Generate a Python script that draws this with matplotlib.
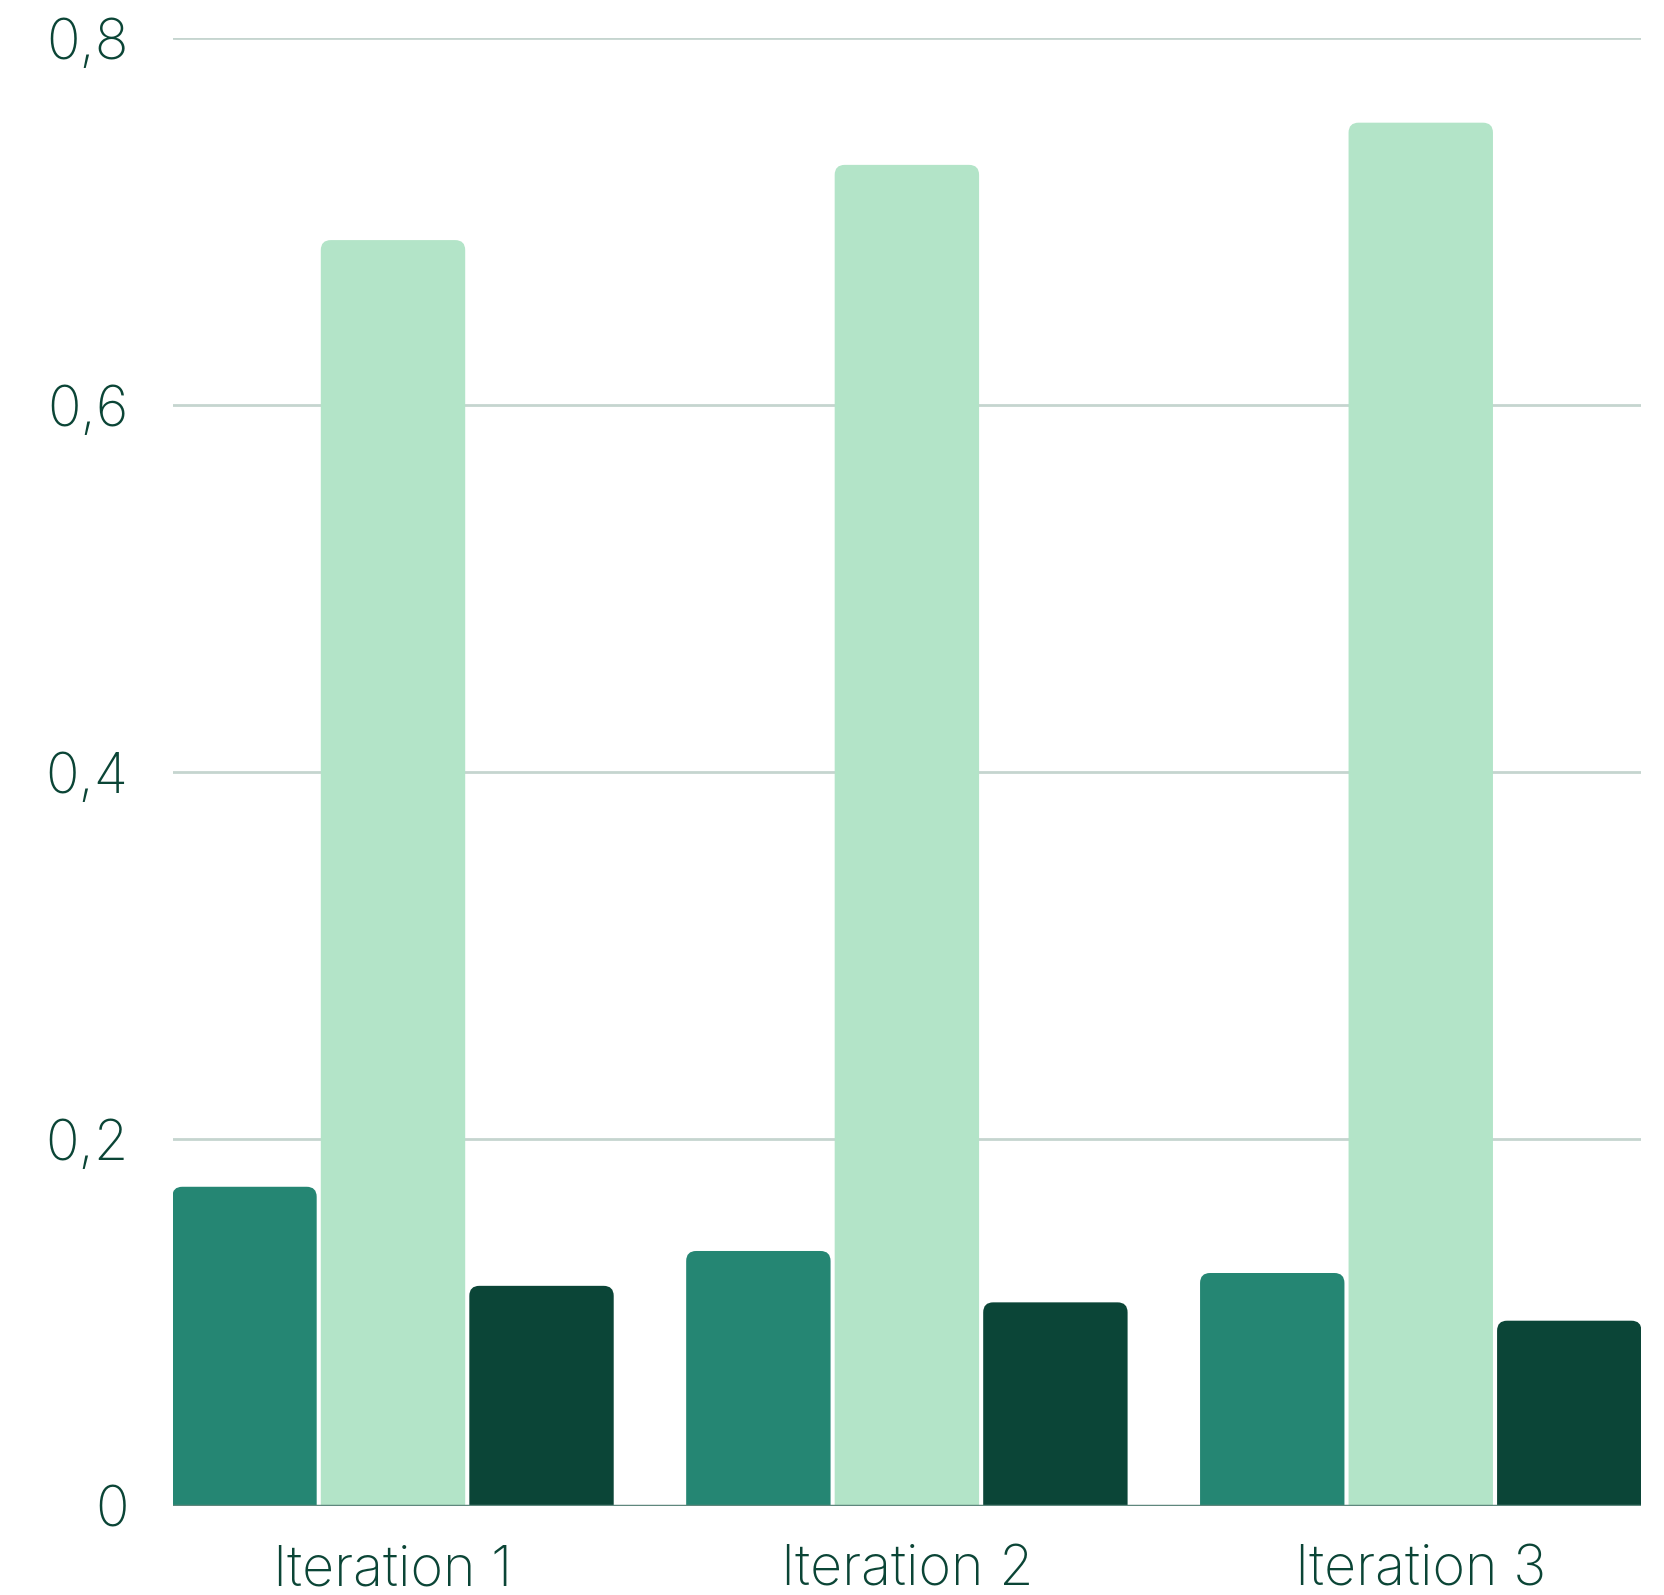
"""Grouped bars per iteration, rounded tops"""
import matplotlib
matplotlib.use('Agg')
import numpy as np
import matplotlib.pyplot as plt
from matplotlib.patches import FancyBboxPatch
from matplotlib.ticker import FuncFormatter

plt.rcParams['font.family'] = ['Inter', 'DejaVu Sans']

categories = ['Iteration 1', 'Iteration 2', 'Iteration 3']
series_a = [0.174, 0.139, 0.127]
series_b = [0.690, 0.731, 0.754]
series_c = [0.120, 0.111, 0.101]
yticks = [0, 0.2, 0.4, 0.6, 0.8]

colors = ['#258673', '#b3e4c8', '#0b4537']
text_color = '#0b4536'

fig = plt.figure(figsize=(16.64, 15.95), dpi=100)
ax = fig.add_axes([0.104, 0.0558, 0.882, 0.9202])

x = np.arange(len(categories))
slot = 0.289
width = 0.281
radius = 0.0195
aspect = 0.28

for i, vals in enumerate([series_a, series_b, series_c]):
    for xi, v in zip(x, vals):
        left = xi + (i - 1) * slot - width / 2
        # start a little below zero so only the top corners show as rounded
        box = FancyBboxPatch((left, -0.02), width, v + 0.02,
                             boxstyle=f'round,pad=0,rounding_size={radius}',
                             mutation_aspect=aspect, facecolor=colors[i],
                             edgecolor='none', zorder=2)
        ax.add_patch(box)

ax.set_xlim(-0.428, 2.428)
ax.set_ylim(0, 0.8)

ax.set_yticks(yticks)
ax.yaxis.set_major_formatter(FuncFormatter(
    lambda v, p: '0' if v == 0 else f'{v:.1f}'.replace('.', ',')))
ax.set_xticks(x)
ax.set_xticklabels(categories)

ax.grid(axis='y', color='#c5d5cf', linewidth=2, zorder=1)
ax.set_axisbelow(True)
ax.axhline(0, color='#5f877d', linewidth=2.5, zorder=3)

for s in ax.spines.values():
    s.set_visible(False)
ax.tick_params(axis='y', length=0, pad=32, labelsize=40, labelcolor=text_color)
ax.tick_params(axis='x', length=0, pad=28, labelsize=40, labelcolor=text_color)
for lab in ax.get_xticklabels() + ax.get_yticklabels():
    lab.set_fontweight('light')

fig.savefig('out.png', dpi=100)
